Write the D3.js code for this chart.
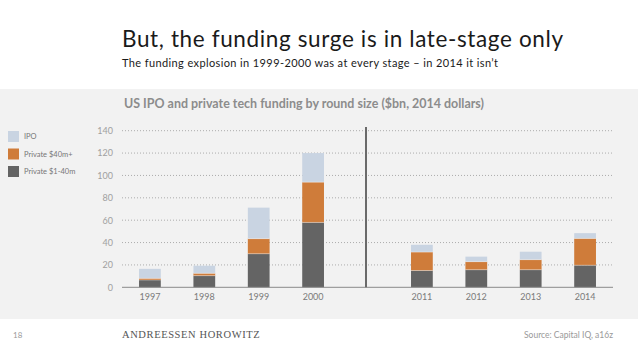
<!DOCTYPE html>
<html><head><meta charset="utf-8">
<script src="https://cdn.jsdelivr.net/npm/d3@7"></script>
<style>body{margin:0;background:#fff}svg{display:block}</style>
</head><body>
<svg id="c" width="638" height="359"></svg>
<script>
const categories = ["1997","1998","1999","2000","","2011","2012","2013","2014"];
const privateSmall = [6.5,10.4,30,58,null,15,15.7,15.7,19.7];
const privateLarge = [1.5,2.1,13.5,36,null,16.5,7.2,9,24];
const ipo = [8.5,6.8,27.7,26,null,6.5,4.5,7.1,4.7];
const yTicks = [0,20,40,60,80,100,120,140];
const seriesNames = ["Private $1-40m","Private $40m+","IPO"];
const seriesColors = ["#646464","#cf7c3a","#c9d4e2"];
const legendOrder = [2,1,0];

const svg = d3.select("#c");
const font = "Lato, 'Open Sans', sans-serif";

// panel
svg.append("rect").attr("x",0).attr("y",89).attr("width",638).attr("height",230).attr("fill","#f2f2f2");

svg.append("text").attr("x",122).attr("y",47).attr("font-family",font).attr("font-size",22.5)
  .attr("fill","#1a1a1a").attr("textLength",441).attr("lengthAdjust","spacing")
  .text("But, the funding surge is in late-stage only");
svg.append("text").attr("x",122).attr("y",67).attr("font-family",font).attr("font-size",11)
  .attr("fill","#1a1a1a").attr("textLength",376).attr("lengthAdjust","spacing")
  .text("The funding explosion in 1999-2000 was at every stage \u2013 in 2014 it isn\u2019t");
svg.append("text").attr("x",124).attr("y",108).attr("font-family",font).attr("font-size",12.5).attr("font-weight","bold")
  .attr("fill","#8c8c8c").attr("textLength",360).attr("lengthAdjust","spacingAndGlyphs")
  .text("US IPO and private tech funding by round size ($bn, 2014 dollars)");

const x = d3.scaleBand().domain(categories).range([122,613]).paddingInner(0.6).paddingOuter(0.313);
const y = d3.scaleLinear().domain([0,140]).range([287.3,130.7]);

// grid
svg.append("g").selectAll("line").data(yTicks.filter(d=>d>0)).join("line")
  .attr("x1",122).attr("x2",613).attr("y1",d=>y(d)).attr("y2",d=>y(d))
  .attr("stroke","#9a9a9a").attr("stroke-width",0.8).attr("stroke-dasharray","1,2");

// y axis labels
const yAxis = d3.axisLeft(y).tickValues(yTicks).tickSize(0).tickPadding(0);
const yg = svg.append("g").attr("transform","translate(113,0)").call(yAxis);
yg.select(".domain").remove();
yg.selectAll("text").attr("font-family",font).attr("font-size",9).attr("fill","#a0a0a0");

// stacks
const rows = categories.map((c,i)=>({cat:c, s0:privateSmall[i], s1:privateLarge[i], s2:ipo[i]})).filter(r=>r.cat!=="");
const stack = d3.stack().keys(["s0","s1","s2"]);
const layers = stack(rows);
svg.append("g").selectAll("g").data(layers).join("g").attr("fill",(d,i)=>seriesColors[i])
  .selectAll("rect").data(d=>d).join("rect")
  .attr("x",d=>x(d.data.cat)).attr("width",x.bandwidth())
  .attr("y",d=>y(d[1])).attr("height",d=>y(d[0])-y(d[1]));
// thin light separators between segments
svg.append("g").selectAll("g").data(layers.slice(0,2)).join("g")
  .selectAll("line").data(d=>d).join("line")
  .attr("x1",d=>x(d.data.cat)).attr("x2",d=>x(d.data.cat)+x.bandwidth())
  .attr("y1",d=>y(d[1])).attr("y2",d=>y(d[1]))
  .attr("stroke","#ffffff").attr("stroke-opacity",0.35).attr("stroke-width",1);

// baseline
svg.append("line").attr("x1",122).attr("x2",613).attr("y1",y(0)).attr("y2",y(0)).attr("stroke","#8a8a8a").attr("stroke-width",1);

// separator
const sepX = x("") + x.bandwidth()/2 - 1.5;
svg.append("line").attr("x1",sepX).attr("x2",sepX).attr("y1",127).attr("y2",y(0)).attr("stroke","#6a6a6a").attr("stroke-width",2);

// x axis
const xAxis = d3.axisBottom(x).tickSize(0).tickPadding(6);
const xg = svg.append("g").attr("transform",`translate(0,${y(0)})`).call(xAxis);
xg.select(".domain").remove();
xg.selectAll("text").attr("font-family",font).attr("font-size",9).attr("fill","#7a7a7a");

// legend
const lg = svg.append("g");
legendOrder.forEach((si,k)=>{
  const yy = 131 + k*17.5;
  lg.append("rect").attr("x",8).attr("y",yy).attr("width",11).attr("height",11).attr("fill",seriesColors[si]);
  lg.append("text").attr("x",24).attr("y",yy+8).attr("font-family",font).attr("font-size",7.5).attr("fill","#777").text(seriesNames[si]);
});

// footer
svg.append("text").attr("x",13).attr("y",338).attr("font-family",font).attr("font-size",8).attr("fill","#999").text("18");
svg.append("text").attr("x",122).attr("y",338).attr("font-family","'Liberation Serif', serif").attr("font-size",10.5)
  .attr("letter-spacing",0.6).attr("fill","#555").text("ANDREESSEN HOROWITZ");
svg.append("text").attr("x",613).attr("y",338).attr("text-anchor","end").attr("font-family",font).attr("font-size",8.5)
  .attr("fill","#999").text("Source: Capital IQ, a16z");
</script>
</body></html>
